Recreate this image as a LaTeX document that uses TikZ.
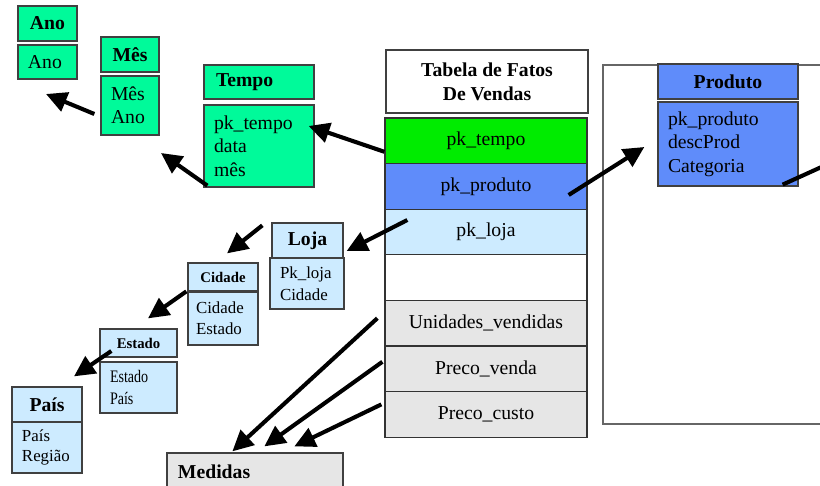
\documentclass[tikz,border=0pt]{standalone}
\usepackage{fontspec}
\setmainfont{Liberation Serif}
\newfontfamily\estreita[FakeStretch=0.8]{Liberation Serif}
\usetikzlibrary{positioning, arrows.meta, calc}
\definecolor{verdeAgua}{RGB}{0,250,154}
\definecolor{verdeVivo}{RGB}{0,236,0}
\definecolor{azulProd}{RGB}{95,140,250}
\definecolor{azulClaro}{RGB}{205,235,255}
\definecolor{cinzaMed}{RGB}{230,230,230}

\begin{document}
\begin{tikzpicture}[
    x=0.25mm, y=-0.25mm,
    cab/.style={draw=black!75, line width=0.9pt, font=\fontsize{14}{17}\selectfont\bfseries, align=center, inner sep=0pt},
    corpo/.style={draw=black!75, line width=0.9pt, font=\fontsize{14}{16.7}\selectfont, align=left, inner xsep=2.5mm, inner ysep=0pt},
    linha/.style={draw=black!80, line width=0.9pt, minimum width=50.5mm, minimum height=11.4mm, inner sep=0pt, font=\fontsize{14}{17}\selectfont},
    seta/.style={-{Triangle[length=5.2mm, width=5mm]}, line width=2.9pt}
]
\useasboundingbox (0,0) rectangle (820,486);
\clip (0,0) rectangle (820,486);

% Moldura do produto
\draw[black!60, line width=1.1pt] (603,65) rectangle (900,424);

% Dimensao tempo
\node[cab, fill=verdeAgua, minimum width=14.75mm, minimum height=8.75mm] (ano) at (47.5,23.5) {Ano};
\node[corpo, fill=verdeAgua, text width=9.75mm, minimum height=8.5mm] (anoCorpo) at (47.5,62) {Ano};

\node[cab, fill=verdeAgua, minimum width=14.5mm, minimum height=8.75mm] (mes) at (130,54.5) {Mês};
\node[corpo, fill=verdeAgua, text width=9.5mm, minimum height=14.75mm] (mesCorpo) at (130,105.5) {Mês\\Ano};

\node[cab, fill=verdeAgua, align=left, inner xsep=3mm, text width=21.5mm, minimum height=8.5mm] (tempo) at (259,82) {Tempo};
\node[corpo, fill=verdeAgua, text width=22.5mm, minimum height=20.5mm] (tempoCorpo) at (259,146) {pk\_tempo\\data\\mês};

% Tabela de fatos
\node[cab, fill=white, minimum width=50.5mm, minimum height=15.75mm] (fatos) at (487,81.5) {Tabela de Fatos\\De Vendas};
\node[linha, fill=verdeVivo] (fTempo) at (486,140.8) {pk\_tempo};
\node[linha, fill=azulProd] (fProduto) at (486,186.4) {pk\_produto};
\node[linha, fill=azulClaro] (fLoja) at (486,232) {pk\_loja};
\node[linha, fill=white] (fVazia) at (486,277.6) {};
\node[linha, fill=cinzaMed] (fUnid) at (486,323.2) {Unidades\_vendidas};
\node[linha, fill=cinzaMed] (fVenda) at (486,368.8) {Preco\_venda};
\node[linha, fill=cinzaMed] (fCusto) at (486,414.4) {Preco\_custo};

% Dimensao produto
\node[cab, fill=azulProd, minimum width=35mm, minimum height=8.75mm] (produto) at (728,81.5) {Produto};
\node[corpo, fill=azulProd, text width=30mm, minimum height=21mm] (produtoCorpo) at (728,144) {pk\_produto\\descProd\\Categoria};

% Dimensao loja
\node[cab, fill=azulClaro, minimum width=17.75mm, minimum height=8.75mm] (loja) at (307.5,240.5) {Loja};
\node[corpo, fill=azulClaro, font=\fontsize{12}{15.5}\selectfont, text width=13.5mm, minimum height=12.75mm] (lojaCorpo) at (307,283.5) {Pk\_loja\\Cidade};

\node[cab, fill=azulClaro, font=\fontsize{10.5}{12}\selectfont\bfseries, minimum width=17.5mm, minimum height=7mm] (cidade) at (223,277) {Cidade};
\node[corpo, fill=azulClaro, font=\fontsize{12}{15}\selectfont, inner xsep=2mm, text width=13.5mm, minimum height=13.25mm] (cidadeCorpo) at (223,318.5) {Cidade\\Estado};

\node[cab, fill=azulClaro, font=\fontsize{10.5}{12}\selectfont\bfseries, minimum width=19.25mm, minimum height=7mm] (estado) at (138.5,343) {Estado};
\node[corpo, fill=azulClaro, font=\estreita\fontsize{12.5}{15}\selectfont, text width=14.25mm, minimum height=12.75mm] (estadoCorpo) at (138.5,387.5) {Estado\\País};

\node[cab, fill=azulClaro, minimum width=17.5mm, minimum height=8.75mm] (pais) at (47,404.5) {País};
\node[corpo, fill=azulClaro, font=\fontsize{12}{14.5}\selectfont, text width=12.5mm, minimum height=12.75mm] (paisCorpo) at (47,447.5) {País\\Região};

% Medidas
\node[cab, fill=cinzaMed, align=left, inner xsep=2.75mm, text width=38.5mm, minimum height=9.5mm] (medidas) at (255,472) {Medidas};

% Setas
\coordinate (pAno) at (46,94);
\coordinate (pMes) at (161,153);
\coordinate (pFora) at (870,145);

\draw[seta] ($(mesCorpo.west)+(-6,8.5)$) -- (pAno);
\draw[seta] ($(tempoCorpo.south west)+(4,-2)$) -- (pMes);
\draw[seta] ($(fTempo.west)+(0,11)$) -- ($(tempoCorpo.east)+(-6,-20)$);
\draw[seta] ($(fProduto.east)+(-19,8.6)$) -- ($(produtoCorpo.west)+(-13,3)$);
\draw[seta] ($(produtoCorpo.south east)+(-16,-2)$) -- (pFora);
\draw[seta] ($(fLoja.west)+(23,-12)$) -- ($(loja.east)+(3,10.5)$);
\draw[seta] ($(loja.north west)+(-9,3)$) -- ($(cidade.north)+(4,-9)$);
\draw[seta] ($(cidadeCorpo.north west)+(-1,0)$) -- ($(estado.north)+(9.5,-10)$);
\draw[seta] ($(estado.west)+(12,8)$) -- ($(pais.north)+(27,-10)$);
\draw[seta] ($(fUnid.west)+(-7,-5)$) -- ($(medidas.north west)+(66,-1)$);
\draw[seta] ($(fVenda.west)+(-2,-7)$) -- ($(medidas.north west)+(98,-6)$);
\draw[seta] ($(fCusto.west)+(-3,-10)$) -- ($(medidas.north west)+(128,-6)$);

\end{tikzpicture}
\end{document}
